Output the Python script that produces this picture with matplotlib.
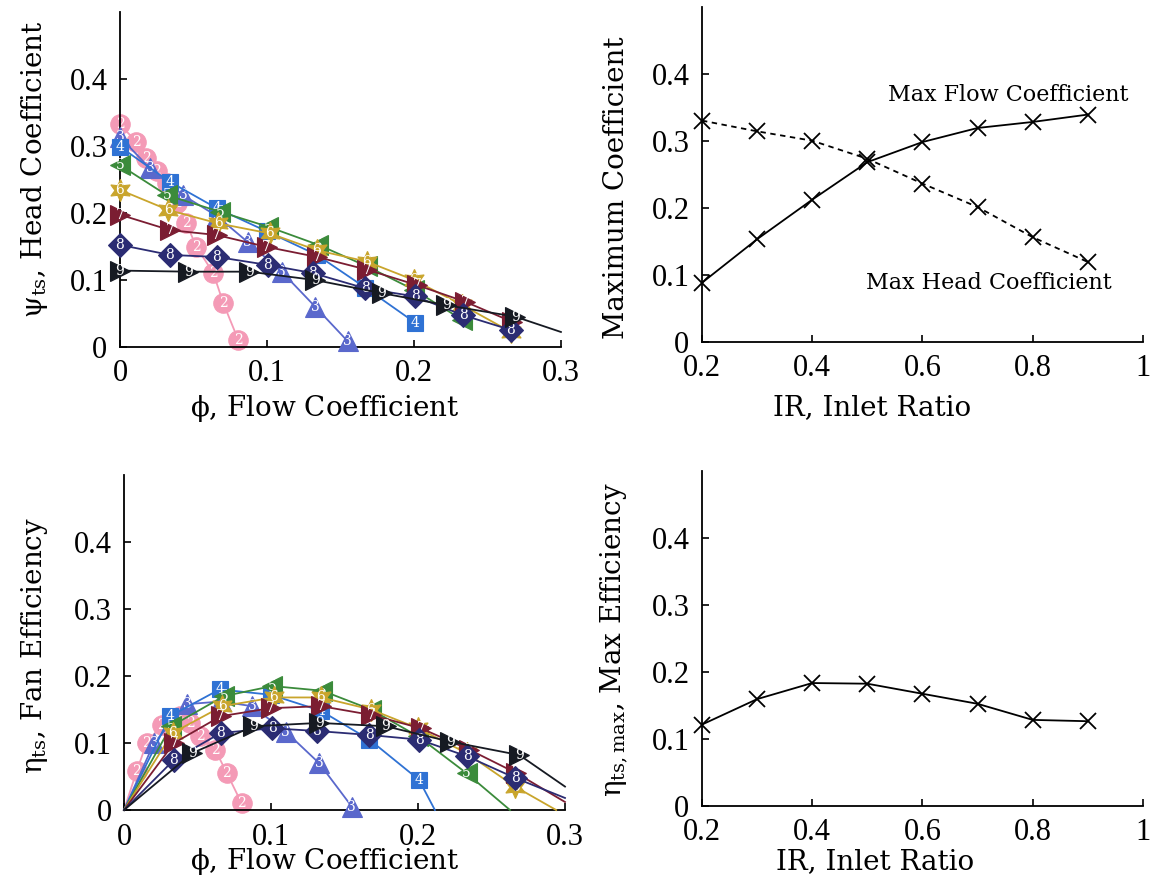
import matplotlib.pyplot as plt

plt.rcParams['font.family'] = 'DejaVu Serif'
plt.rcParams['mathtext.fontset'] = 'dejavuserif'

# ---- right hand panels: maxima against inlet ratio ----
inlet_ratio = [0.2, 0.3, 0.4, 0.5, 0.6, 0.7, 0.8, 0.9]
max_flow = [0.088, 0.153, 0.212, 0.268, 0.298, 0.319, 0.328, 0.339]
max_head = [0.330, 0.314, 0.300, 0.273, 0.236, 0.201, 0.156, 0.119]
max_eff = [0.121, 0.159, 0.183, 0.182, 0.167, 0.152, 0.128, 0.126]

# ---- head coefficient curves, one per inlet ratio (label = tenths) ----
series_ids = [2, 3, 4, 5, 6, 7, 8, 9]

phi_head_2 = [0, 0.011, 0.018, 0.025, 0.032, 0.039, 0.045, 0.052, 0.0635, 0.0703, 0.0805]
psi_head_2 = [0.332, 0.306, 0.281, 0.262, 0.245, 0.215, 0.185, 0.149, 0.110, 0.065, 0.010]
phi_head_3 = [0, 0.0204, 0.043, 0.066, 0.087, 0.110, 0.1327, 0.155]
psi_head_3 = [0.313, 0.266, 0.226, 0.195, 0.156, 0.112, 0.060, 0.008]
phi_head_4 = [0, 0.034, 0.066, 0.100, 0.134, 0.167, 0.2007]
psi_head_4 = [0.2985, 0.246, 0.2065, 0.172, 0.137, 0.088, 0.036]
phi_head_5 = [0, 0.032, 0.068, 0.1009, 0.135, 0.168, 0.200, 0.233]
psi_head_5 = [0.271, 0.226, 0.2015, 0.179, 0.152, 0.120, 0.085, 0.040]
phi_head_6 = [0, 0.033, 0.0669, 0.102, 0.134, 0.168, 0.200, 0.233, 0.266]
psi_head_6 = [0.234, 0.204, 0.184, 0.169, 0.144, 0.127, 0.0995, 0.062, 0.022]
phi_head_7 = [0, 0.034, 0.0658, 0.0998, 0.134, 0.168, 0.202, 0.235, 0.267]
psi_head_7 = [0.197, 0.174, 0.1667, 0.149, 0.134, 0.115, 0.092, 0.067, 0.037]
phi_head_8 = [0, 0.034, 0.0658, 0.1007, 0.131, 0.167, 0.201, 0.2335, 0.266]
psi_head_8 = [0.152, 0.137, 0.134, 0.122, 0.110, 0.087, 0.075, 0.047, 0.025]
phi_head_9 = [0, 0.0465, 0.088, 0.1327, 0.178, 0.222, 0.269]
psi_head_9 = [0.1136, 0.112, 0.112, 0.0995, 0.080, 0.062, 0.0448]
head_tail_9 = [(0.300, 0.022)]

# ---- efficiency curves ----
phi_eff_2 = [0.0086, 0.0154, 0.0256, 0.038, 0.045, 0.052, 0.062, 0.070, 0.080]
eta_eff_2 = [0.058, 0.100, 0.127, 0.140, 0.130, 0.110, 0.090, 0.055, 0.010]
phi_eff_3 = [0.0204, 0.043, 0.066, 0.087, 0.110, 0.1327, 0.155]
eta_eff_3 = [0.100, 0.158, 0.162, 0.155, 0.117, 0.070, 0.005]
phi_eff_4 = [0.0313, 0.065, 0.100, 0.134, 0.167, 0.2007]
eta_eff_4 = [0.140, 0.180, 0.172, 0.148, 0.105, 0.045]
phi_eff_5 = [0.032, 0.068, 0.1009, 0.135, 0.168, 0.200, 0.233]
eta_eff_5 = [0.125, 0.170, 0.185, 0.178, 0.150, 0.110, 0.055]
phi_eff_6 = [0.033, 0.0669, 0.102, 0.134, 0.168, 0.200, 0.233, 0.266]
eta_eff_6 = [0.115, 0.155, 0.168, 0.168, 0.150, 0.122, 0.085, 0.035]
phi_eff_7 = [0.034, 0.0658, 0.0998, 0.134, 0.168, 0.202, 0.235, 0.267]
eta_eff_7 = [0.100, 0.140, 0.152, 0.155, 0.142, 0.122, 0.090, 0.055]
phi_eff_8 = [0.034, 0.0658, 0.1007, 0.131, 0.167, 0.201, 0.2335, 0.266]
eta_eff_8 = [0.075, 0.115, 0.122, 0.118, 0.112, 0.105, 0.080, 0.048]
phi_eff_9 = [0.0465, 0.088, 0.1327, 0.178, 0.222, 0.269]
eta_eff_9 = [0.085, 0.125, 0.130, 0.125, 0.102, 0.082]
eff_tail_4 = [(0.2115, 0.0)]
eff_tail_5 = [(0.2626, 0.0)]
eff_tail_6 = [(0.294, 0.0)]
eff_tail_7 = [(0.300, 0.012)]
eff_tail_8 = [(0.300, 0.018)]
eff_tail_9 = [(0.300, 0.035)]

phi_ticks = [0, 0.1, 0.2, 0.3]
phi_tick_labels = ['0', '0.1', '0.2', '0.3']
ir_ticks = [0.2, 0.4, 0.6, 0.8, 1.0]
ir_tick_labels = ['0.2', '0.4', '0.6', '0.8', '1']
y_ticks = [0, 0.1, 0.2, 0.3, 0.4]
y_tick_labels = ['0', '0.1', '0.2', '0.3', '0.4']

head_data = {
    2: (phi_head_2, psi_head_2, []),
    3: (phi_head_3, psi_head_3, []),
    4: (phi_head_4, psi_head_4, []),
    5: (phi_head_5, psi_head_5, []),
    6: (phi_head_6, psi_head_6, []),
    7: (phi_head_7, psi_head_7, []),
    8: (phi_head_8, psi_head_8, []),
    9: (phi_head_9, psi_head_9, head_tail_9),
}
eff_data = {
    2: (phi_eff_2, eta_eff_2, []),
    3: (phi_eff_3, eta_eff_3, []),
    4: (phi_eff_4, eta_eff_4, eff_tail_4),
    5: (phi_eff_5, eta_eff_5, eff_tail_5),
    6: (phi_eff_6, eta_eff_6, eff_tail_6),
    7: (phi_eff_7, eta_eff_7, eff_tail_7),
    8: (phi_eff_8, eta_eff_8, eff_tail_8),
    9: (phi_eff_9, eta_eff_9, eff_tail_9),
}

# marker styles per series
styles = {
    2: dict(color='#f49ab6', marker='o', ms=14),
    3: dict(color='#5a68cc', marker='^', ms=15),
    4: dict(color='#2f72d4', marker='s', ms=12),
    5: dict(color='#3b8b3b', marker='<', ms=15),
    6: dict(color='#c9a52c', marker=(6, 1, 0), ms=16),
    7: dict(color='#7b1d32', marker='>', ms=15),
    8: dict(color='#2b2c73', marker='D', ms=12),
    9: dict(color='#161a22', marker='>', ms=15),
}

TICK_FONT = dict(fontfamily='Liberation Serif', fontsize=22)
LABEL_SIZE = 20


def style_axes(ax, xticks, xlabels, xlim):
    for side in ('top', 'right'):
        ax.spines[side].set_visible(False)
    for side in ('left', 'bottom'):
        ax.spines[side].set_linewidth(1.3)
    ax.set_xlim(*xlim)
    ax.set_ylim(0, 0.5)
    ax.set_xticks(xticks)
    ax.set_xticklabels(xlabels, **TICK_FONT)
    ax.set_yticks(y_ticks)
    ax.set_yticklabels(y_tick_labels, **TICK_FONT)
    ax.tick_params(direction='in', length=5, width=1.2, pad=9)


def set_labels(ax, xlabel, ylabel, xpos, ypos):
    ax.set_xlabel(xlabel, fontsize=LABEL_SIZE)
    ax.set_ylabel(ylabel, fontsize=LABEL_SIZE)
    ax.xaxis.set_label_coords(*xpos)
    ax.yaxis.set_label_coords(*ypos)
    ax.xaxis.label.set_va('center')
    ax.yaxis.label.set_va('center')


def draw_family(ax, data, start_origin):
    for k in series_ids:
        xs, ys, tail = data[k]
        st = styles[k]
        lx = ([0.0] if start_origin else []) + list(xs) + [p[0] for p in tail]
        ly = ([0.0] if start_origin else []) + list(ys) + [p[1] for p in tail]
        ax.plot(lx, ly, '-', color=st['color'], lw=1.3, clip_on=False, zorder=k)
        ax.plot(xs, ys, ls='none', marker=st['marker'], ms=st['ms'],
                mfc=st['color'], mec=st['color'], mew=0.8,
                clip_on=False, zorder=k + 0.1)
        for x, y in zip(xs, ys):
            ax.text(x, y, str(k), color='white', fontsize=10, ha='center',
                    va='center', zorder=k + 0.2, clip_on=False,
                    fontfamily='DejaVu Serif')


fig = plt.figure(figsize=(11.58, 8.92), dpi=100)
ax_tl = fig.add_axes([0.1036, 0.6113, 0.3808, 0.3756])
ax_bl = fig.add_axes([0.1071, 0.0919, 0.3808, 0.3756])
ax_tr = fig.add_axes([0.6062, 0.6169, 0.3808, 0.3756])
ax_br = fig.add_axes([0.6062, 0.0968, 0.3808, 0.3756])

# head coefficient
draw_family(ax_tl, head_data, start_origin=False)
style_axes(ax_tl, phi_ticks, phi_tick_labels, (0, 0.3))
set_labels(ax_tl, r'$\mathrm{\phi}$, Flow Coefficient',
           r'$\mathrm{\psi_{ts}}$, Head Coefficient',
           (0.465, -0.183), (-0.193, 0.53))

# efficiency
draw_family(ax_bl, eff_data, start_origin=True)
style_axes(ax_bl, phi_ticks, phi_tick_labels, (0, 0.3))
set_labels(ax_bl, r'$\mathrm{\phi}$, Flow Coefficient',
           r'$\mathrm{\eta_{ts}}$, Fan Efficiency',
           (0.456, -0.155), (-0.202, 0.49))

# maximum coefficients
ax_tr.plot(inlet_ratio, max_flow, '-', color='black', lw=1.3, marker='x',
           ms=11, mew=1.3, clip_on=False)
ax_tr.plot(inlet_ratio, max_head, color='black', lw=1.3, marker='x',
           ms=11, mew=1.3, dashes=(3, 2.5), clip_on=False)
ax_tr.text(0.537, 0.368, 'Max Flow Coefficient', fontsize=16, ha='left', va='center')
ax_tr.text(0.4975, 0.0875, 'Max Head Coefficient', fontsize=16, ha='left', va='center')
style_axes(ax_tr, ir_ticks, ir_tick_labels, (0.2, 1.0))
set_labels(ax_tr, 'IR, Inlet Ratio', 'Maximum Coefficient',
           (0.385, -0.198), (-0.193, 0.459))

# maximum efficiency
ax_br.plot(inlet_ratio, max_eff, '-', color='black', lw=1.3, marker='x',
           ms=11, mew=1.3, clip_on=False)
style_axes(ax_br, ir_ticks, ir_tick_labels, (0.2, 1.0))
set_labels(ax_br, 'IR, Inlet Ratio',
           r'$\mathrm{\eta_{ts,max}}$, Max Efficiency',
           (0.392, -0.168), (-0.2, 0.495))

fig.savefig('out.png', dpi=100)
